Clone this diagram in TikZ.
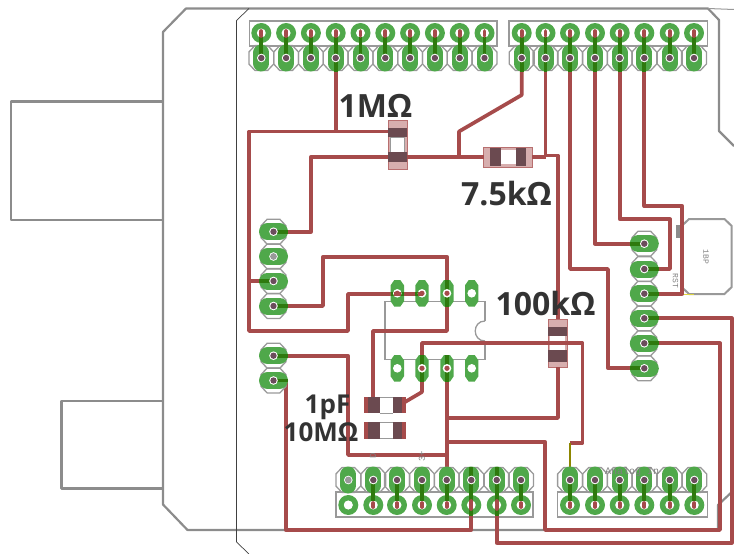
\documentclass[tikz,border=0pt]{standalone}
\usepackage{fontspec}
\setmainfont{Open Sans}
\newfontfamily\silkfont{Liberation Mono}
\definecolor{tracered}{HTML}{A64B4B}
\definecolor{padgreen}{HTML}{4FA84A}
\definecolor{darkgreen}{HTML}{2E7A0E}
\definecolor{boardgray}{HTML}{8C8C8C}
\definecolor{silkgray}{HTML}{999999}
\definecolor{holedark}{HTML}{6B4D5C}
\definecolor{stripe}{HTML}{6B4A50}
\definecolor{labelgray}{HTML}{333333}
\tikzset{
 board/.style={draw=boardgray,line width=2.2pt,line join=round},
 thinline/.style={draw=black!75,line width=0.7pt},
 silk/.style={draw=silkgray,line width=1.3pt,line join=miter},
 trace/.style={draw=tracered,line width=3.7pt,line join=round},
 stub/.style={draw=darkgreen,line width=3.7pt},
 holered/.style={draw=tracered,line width=3.7pt,line cap=round},
 padstroke/.style={draw=padgreen,line cap=round},
 valuelabel/.style={text=labelgray,inner sep=0pt,anchor=base,font=\bfseries\fontsize{32}{32}\selectfont},
 smalllabel/.style={text=labelgray,inner sep=0pt,anchor=base,font=\bfseries\fontsize{26}{26}\selectfont},
 silktext/.style={text=gray,inner sep=0pt,font=\silkfont\fontsize{8}{8}\selectfont},
}
% octagon outline
\newcommand\octa[2]{\draw[silk,shift={(#1,#2)}] (-12.4,-6)--(-6.4,-12.4)--(6.4,-12.4)--(12.4,-6)--(12.4,6)--(6.4,12.4)--(-6.4,12.4)--(-12.4,6)--cycle;}
% vertical pad (stadium)
\newcommand\padv[2]{\draw[padstroke,line width=16pt] (#1,#2-5.5)--(#1,#2+5.5);}
% horizontal pad (stadium)
\newcommand\padh[2]{\draw[padstroke,line width=17pt] (#1-6,#2)--(#1+6,#2);}
% IC pad
\newcommand\padic[2]{\fill[padgreen,shift={(#1,#2)}] (-6.7,-8)--(-3,-13.3)--(3,-13.3)--(6.7,-8)--(6.7,8)--(3,13.3)--(-3,13.3)--(-6.7,8)--cycle;}
% ring pad
\newcommand\ringpad[2]{\fill[padgreen] (#1,#2) circle[radius=10];\fill[white] (#1,#2) circle[radius=4.5];}
% hole with dark/grey/white dot
\newcommand\holed[2]{\fill[white] (#1,#2) circle[radius=4.3];\fill[holedark] (#1,#2) circle[radius=3.2];}
\newcommand\holeg[2]{\fill[white] (#1,#2) circle[radius=4.3];\fill[silkgray] (#1,#2) circle[radius=3.4];}
\newcommand\holew[2]{\fill[white] (#1,#2) circle[radius=4.3];}
\newcommand\holer[2]{\fill[white] (#1,#2) circle[radius=4.3];\fill[tracered] (#1,#2) circle[radius=2.6];}
\begin{document}
\begin{tikzpicture}[x=1pt,y=-1pt]
\useasboundingbox (0,0) rectangle (734,554);
% board outline
\draw[board] (734,146)--(719,131)--(719,20)--(708,8.5)--(186,8.5)--(163,32)--(163,504.5)--(187.5,530)--(718,530)--(718,505)--(734,490);
\draw[board] (163,101.5)--(11,101.5)--(11,220)--(163,220);
\draw[board] (163,401)--(61.5,401)--(61.5,488.5)--(163,488.5);
\draw[silkgray,line width=1pt] (708,8.5)--(734,9.5);
\draw[thinline] (249,8.5)--(236.5,20.5)--(236.5,542)--(249,554);
% header boxes
\draw[silk] (249.5,21) rectangle (497,46);
\draw[silk] (509,21) rectangle (707.5,46);
\draw[silk] (336,492) rectangle (533,517);
\draw[silk] (557.7,492) rectangle (707.7,517);
% IC outline
\draw[silk] (485,321)--(485,301.7)--(385,301.7)--(385,359.3)--(485,359.3)--(485,341);
\draw[silk] (485,321) .. controls (472,321) and (472,341) .. (485,341);
% reset button
\draw[silk,line width=2pt] (689,219)--(724.5,219)--(731.7,226)--(731.7,287)--(724.5,294)--(689,294)--(681.7,287)--(681.7,226)--cycle;
\fill[boardgray] (675.5,225) rectangle (679.5,238);
\draw[yellow!70!gray,line width=0.8pt] (683,294.5)--(694,294.5);
\node[silktext,rotate=-90] (btnlabel) at (706,257) {1BP};
\node[silktext,rotate=-90] (rstlabel) at (675.5,281) {RST};
% passive bodies (under traces)
\fill[tracered,opacity=0.45] (388,120) rectangle (407,169);
\fill[white] (390.5,137) rectangle (404.5,152);
\draw[silkgray,line width=0.8pt] (390.5,137) rectangle (404.5,152);
\draw[tracered!80,line width=0.8pt] (388,120) rectangle (407,169);
\fill[tracered,opacity=0.45] (483,147) rectangle (532.7,167);
\fill[white] (501,150) rectangle (516,164);
\draw[tracered!80,line width=0.8pt] (483,147) rectangle (532.7,167);
\fill[tracered,opacity=0.45] (548,319) rectangle (567,367);
\fill[white] (550,336) rectangle (565,350);
\draw[tracered!80,line width=0.8pt] (548,319) rectangle (567,367);
\fill[tracered] (364,397) rectangle (380,413);
\fill[tracered] (393,397) rectangle (406,413);
\draw[silkgray,line width=0.8pt] (380,397.5)--(393,397.5) (380,413)--(393,413);
\fill[tracered] (364,422) rectangle (380,439);
\fill[tracered] (393,422) rectangle (406,439);
\draw[silkgray,line width=0.8pt] (380,422.5)--(393,422.5) (380,438.5)--(393,438.5);
% traces
\draw[trace] (336,58)--(336,131.5);
\draw[trace] (398,131.5)--(249,131.5)--(249,331)--(348,331)--(348,294)--(422,294);
\draw[trace] (249,281)--(273.5,281);
\draw[trace] (484,156.7)--(311,156.7)--(311,231.7)--(273.5,231.7);
\draw[trace] (459,156.7)--(459,131.5)--(521.7,95)--(521.7,33);
\draw[trace] (532,156.7)--(545.5,156.7);
\draw[trace] (545.5,33)--(545.5,155.5)--(558,155.5)--(558,319);
\draw[trace] (558,367)--(558,418)--(447,418);
\draw[trace] (273.5,306)--(323,306)--(323,256.7)--(447,256.7)--(447,293.3);
\draw[trace] (447,293.3)--(447,331)--(373,331)--(373,397);
\draw[trace] (273.5,355.7)--(348,355.7)--(348,455)--(447,455);
\draw[trace] (447,368.3)--(447,505);
\draw[trace] (422,368.3)--(422,343)--(582.5,343)--(582.5,442.7)--(569.5,442.7);
\draw[draw=olive,line width=2pt] (569.5,442.7)--(569.5,470);
\draw[trace] (422,368.3)--(422,392)--(405,402);
\draw[trace] (447,441.7)--(545,441.7)--(545,530)--(720,530)--(720,343.3)--(644.3,343.3);
\draw[trace] (644.3,318.3)--(731.7,318.3)--(731.7,542.7)--(496.7,542.7)--(496.7,505);
\draw[trace] (273.5,380.5)--(285.7,380.5)--(285.7,530)--(471.3,530)--(471.3,505);
\draw[trace] (570,33)--(570,269)--(608,269)--(608,368.3)--(644.3,368.3);
\draw[trace] (595,33)--(595,243.7)--(644.3,243.7);
\draw[trace] (619.7,33)--(619.7,219.3)--(670,219.3)--(670,269)--(644.3,269);
\draw[trace] (644.3,33)--(644.3,206)--(682.3,206)--(682.3,293.7)--(644.3,293.7);
% stripes over traces
\fill[stripe] (388,128) rectangle (407,137);
\fill[stripe] (388,152) rectangle (407,162);
\fill[stripe] (490,148) rectangle (501,166);
\fill[stripe] (516,148) rectangle (526,166);
\fill[stripe] (548,327) rectangle (567,336);
\fill[stripe] (548,350) rectangle (567,362);
\fill[stripe] (368,397) rectangle (380,413);
\fill[stripe] (393,397) rectangle (402,413);
\fill[stripe] (368,422) rectangle (380,439);
\fill[stripe] (393,422) rectangle (402,439);
% top headers
\foreach \x in {261.3,286.1,310.9,335.7,360.5,385.3,410.1,434.9,459.7,484.5,521.7,545.5,570,595,619.7,644.3,669.7,694}{
  \octa{\x}{58}
  \padv{\x}{58}
  \ringpad{\x}{33}
}
\foreach \x in {261.3,286.1,310.9,360.5,385.3,410.1,434.9,459.7,484.5,669.7,694}{
  \draw[stub] (\x,37)--(\x,58);
  \holed{\x}{58}
  \draw[holered] (\x,31)--(\x,36);
}
\foreach \x in {335.7,521.7,545.5,570,595,619.7,644.3}{
  \draw[stub] (\x,37)--(\x,72);
  \holed{\x}{58}
  \draw[holered] (\x,31)--(\x,36);
}
% left headers
\foreach \y in {231.7,256.5,281,306,355.7,380.5}{
  \octa{273.5}{\y}
}
\foreach \y in {231.7,256.5,281,306,355.7,380.5}{
  \padh{273.5}{\y}
}
\foreach \y in {231.7,306,355.7,380.5}{\draw[stub] (273.5,\y)--(288,\y);}
\draw[stub] (259,281)--(273.5,281);
\foreach \y in {231.7,281,306,355.7,380.5}{\holed{273.5}{\y}}
\holeg{273.5}{256.5}
% right header
\foreach \y in {243.7,269,293.7,318.3,343.3,368.3}{
  \octa{644.3}{\y}
}
\foreach \y in {243.7,269,293.7,318.3,343.3,368.3}{
  \padh{644.3}{\y}
}
\foreach \y in {269,293.7,318.3,343.3}{\draw[stub] (644.3,\y)--(659,\y);}
\foreach \y in {243.7,368.3}{\draw[stub] (630,\y)--(644.3,\y);}
\foreach \y in {243.7,269,293.7,318.3,343.3,368.3}{\holed{644.3}{\y}}
% IC pads
\foreach \x in {397.3,422,447,471.7}{\padic{\x}{293.3}\padic{\x}{368.3}}
\draw[stub] (390.6,294)--(404,294) (415.3,294)--(422,294);
\draw[stub] (447,280)--(447,307);
\draw[stub] (422,355)--(422,381.6);
\draw[stub] (447,355)--(447,381.6);
\holer{397.3}{293.3}\holer{422}{293.3}\holer{447}{293.3}\holew{471.7}{293.3}
\holew{397.3}{368.3}\holer{422}{368.3}\holer{447}{368.3}\holew{471.7}{368.3}
\draw[tracered,line width=3.7pt] (393.5,294)--(401,294) (418,294)--(423,294);
% bottom headers
\foreach \x in {348.3,373.3,397,422,446.7,471.3,496.7,521,570,595,619.7,644.3,669.7,694.3}{
  \octa{\x}{480}
}
\foreach \x in {348.3,373.3,397,422,446.7,471.3,496.7,521,570,595,619.7,644.3,669.7,694.3}{
  \padv{\x}{480}
  \ringpad{\x}{505}
}
\holeg{348.3}{480}
\holew{348.3}{505}
\foreach \x in {373.3,397,422,446.7,521,570,595,619.7,644.3,669.7,694.3}{
  \draw[stub] (\x,480)--(\x,501);
  \holed{\x}{480}
  \draw[holered] (\x,503)--(\x,507);
}
\foreach \x in {471.3,496.7}{
  \draw[stub] (\x,467)--(\x,501) (\x,509)--(\x,516);
  \holed{\x}{480}
  \draw[holered] (\x,501)--(\x,509);
}
% value labels
\node[valuelabel] (r1m) at (375.5,117) {1MΩ};
\node[valuelabel] (r75k) at (506.5,205) {7.5kΩ};
\node[valuelabel] (r100k) at (545.5,315) {100kΩ};
\node[smalllabel] (c1p) at (327.5,413) {1pF};
\node[smalllabel] (r10m) at (321,441) {10MΩ};
% silkscreen text
\node[silktext] (analog) at (632,472) {\fontsize{10}{10}\selectfont Analog In};
\node[silktext,rotate=90] (pinD) at (373,456) {\fontsize{9}{9}\selectfont D};
\node[silktext,rotate=90] (pin3) at (422,456) {\fontsize{9}{9}\selectfont 3+};
\end{tikzpicture}
\end{document}
